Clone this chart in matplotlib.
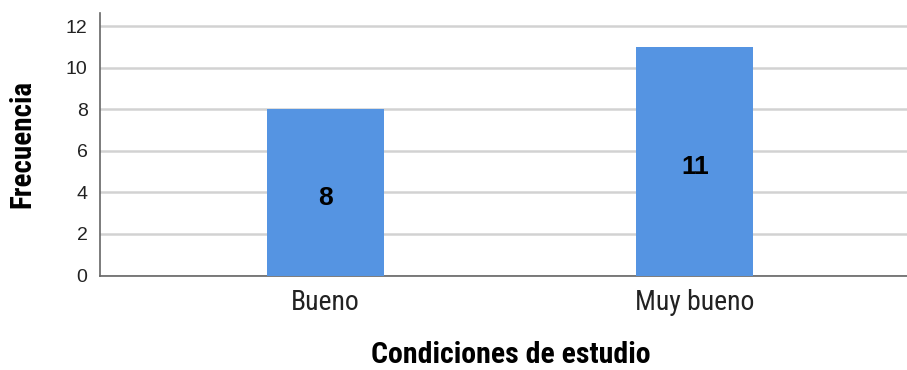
import matplotlib.pyplot as plt

categories = ["Bueno", "Muy bueno"]
counts = [8, 11]
yticks = [0, 2, 4, 6, 8, 10, 12]

BAR_COLOR = "#5594e2"
GRID_COLOR = "#d2d2d2"
NARROW = ["Roboto Condensed", "DejaVu Sans"]

plt.rcParams["font.family"] = ["Liberation Sans", "DejaVu Sans"]

fig = plt.figure(figsize=(9.07, 3.70), dpi=100)
ax = fig.add_axes([100 / 907, 1 - 275.5 / 370, 807 / 907, 262.5 / 370])

x = list(range(len(categories)))
bars = ax.bar(x, counts, width=0.317, color=BAR_COLOR, zorder=3)

# value labels sit a touch below the bar middle, as in the original
for b, v in zip(bars, counts):
    ax.text(b.get_x() + b.get_width() / 2, v / 2 - 0.27, str(v),
            ha="center", va="center", fontsize=19, weight="bold", zorder=4)

ax.set_xlim(-0.61, 1.574)
ax.set_ylim(0, 12.63)
ax.set_yticks(yticks)
ax.set_xticks(x)
ax.set_xticklabels(categories, family=NARROW, fontsize=20)
ax.tick_params(axis="y", length=0, pad=9, labelsize=14, labelcolor="#222222")
ax.tick_params(axis="x", length=0, pad=10, labelcolor="#222222")

ax.yaxis.grid(True, color=GRID_COLOR, linewidth=1.8, zorder=0)
for s in ["top", "right"]:
    ax.spines[s].set_visible(False)
for s in ["left", "bottom"]:
    ax.spines[s].set_color("#666666")
    ax.spines[s].set_linewidth(1.2)

ax.set_ylabel("Frecuencia", family=NARROW, fontsize=21, weight="bold", labelpad=21)
ax.set_xlabel("Condiciones de estudio", family=NARROW, fontsize=21.5, weight="bold", labelpad=19)
ax.xaxis.set_label_coords(0.509, -0.25)

fig.savefig("out.png", dpi=100)
